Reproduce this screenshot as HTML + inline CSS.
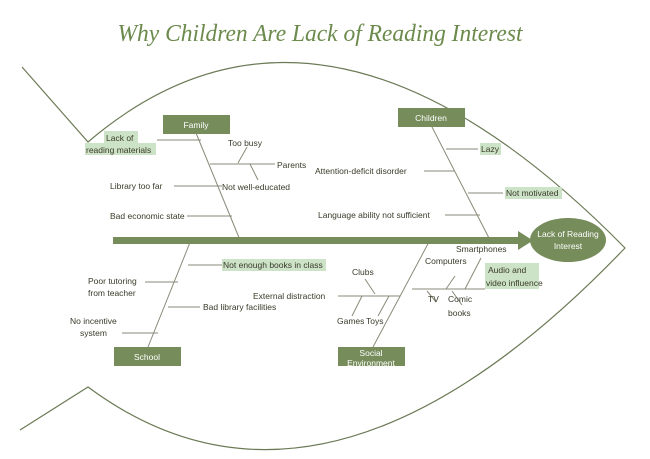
<!DOCTYPE html>
<html><head><meta charset="utf-8"><style>
body{margin:0;background:#fff;}
svg{display:block;font-family:"Liberation Sans",sans-serif;}
.t{font-size:8.5px;fill:#3a3a2a;}
.w{font-size:8.5px;fill:#fff;}
</style></head><body>
<svg width="650" height="459" viewBox="0 0 650 459" xmlns="http://www.w3.org/2000/svg">
<text x="320" y="41" text-anchor="middle" font-family="Liberation Serif,serif" font-style="italic" font-size="24" fill="#6b8a4c" textLength="405" lengthAdjust="spacingAndGlyphs">Why Children Are Lack of Reading Interest</text>
<g fill="none" stroke="#6b7a55" stroke-width="1.2">
<path d="M22,67 L88,142 Q323,-59 625,248 Q324,562 88,387 L20,430"/>
</g>
<g stroke="#8a8a7a" stroke-width="1" fill="none">
<path d="M196,133 L240,240 M432,127 L490,240 M191,240 L148,347 M430,240 L373,347"/>
<path d="M157,140 H201 M210,164 H275 M238,163 L247,147 M250,164 L258,180 M174,186 H222 M187,216 H232"/>
<path d="M446,149 H478 M424,171 H455 M468,193 H503 M445,215 H480"/>
<path d="M188,265 H222 M145,282 H178 M168,307 H200 M122,333 H158"/>
<path d="M338,296 H400 M375,294 L365,279 M362,296 L352,316 M389,296 L378,316"/>
<path d="M412,289 H485 M446,289 L455,276 M465,289 L481,258 M427,291 L436,302 M452,291 L462,305"/>
</g>
<rect x="113" y="237" width="410" height="7" fill="#768c5b"/>
<polygon points="518,231 533,240.5 518,250" fill="#768c5b"/>
<ellipse cx="568" cy="240" rx="38" ry="22" fill="#768c5b"/>
<text class="w" x="568" y="237" text-anchor="middle">Lack of Reading</text>
<text class="w" x="568" y="249" text-anchor="middle">Interest</text>
<g fill="#768c5b">
<rect x="163" y="115" width="67" height="19"/><rect x="398" y="108" width="67" height="19"/>
<rect x="114" y="347" width="67" height="19"/><rect x="338" y="347" width="67" height="19"/>
</g>
<text class="w" x="196" y="128" text-anchor="middle">Family</text>
<text class="w" x="431" y="121" text-anchor="middle">Children</text>
<text class="w" x="147" y="360" text-anchor="middle">School</text>
<text class="w" x="371" y="356" text-anchor="middle">Social</text>
<text class="w" x="371" y="366" text-anchor="middle">Environment</text>
<g fill="#cde3c8">
<rect x="104" y="131" width="34" height="12"/><rect x="85" y="143" width="71" height="12"/>
<rect x="480" y="143" width="21" height="12"/><rect x="505" y="187" width="57" height="12"/>
<rect x="222" y="259" width="104" height="12"/><rect x="485" y="263" width="54" height="26"/>
</g>
<g class="t">
<text x="106" y="141">Lack of</text><text x="86" y="153">reading materials</text>
<text x="228" y="146">Too busy</text><text x="277" y="168">Parents</text>
<text x="222" y="190">Not well-educated</text><text x="110" y="189">Library too far</text>
<text x="110" y="219">Bad economic state</text>
<text x="481" y="152">Lazy</text><text x="315" y="174">Attention-deficit disorder</text>
<text x="506" y="196">Not motivated</text><text x="318" y="218">Language ability not sufficient</text>
<text x="223" y="268">Not enough books in class</text>
<text x="88" y="284">Poor tutoring</text><text x="88" y="296">from teacher</text>
<text x="203" y="310">Bad library facilities</text>
<text x="70" y="324">No incentive</text><text x="80" y="336">system</text>
<text x="352" y="275">Clubs</text><text x="253" y="299">External distraction</text>
<text x="337" y="324">Games</text><text x="366" y="324">Toys</text>
<text x="456" y="252">Smartphones</text><text x="425" y="264">Computers</text>
<text x="488" y="273">Audio and</text><text x="486" y="286">video influence</text>
<text x="428" y="302">TV</text><text x="448" y="302">Comic</text><text x="448" y="316">books</text>
</g>
</svg>
</body></html>
